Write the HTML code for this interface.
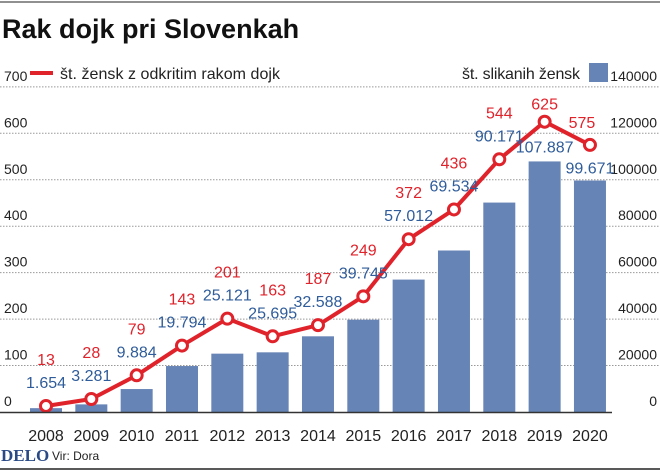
<!DOCTYPE html>
<html><head><meta charset="utf-8"><style>
body{margin:0;background:#fff;}
svg{display:block;font-family:"Liberation Sans",sans-serif;}
</style></head><body>
<svg id="chart" width="660" height="472" viewBox="0 0 660 472">
<line x1="0" y1="2" x2="660" y2="2" stroke="#222" stroke-width="1"/>
<text x="2" y="38" font-weight="bold" font-size="27" fill="#111">Rak dojk pri Slovenkah</text>
<g id="grid"></g>
<g id="bars"></g>
<g id="line"></g>
<g id="labels"></g>
<line x1="0" y1="412.5" x2="612" y2="412.5" stroke="#333" stroke-width="1.5"/>
<g>
<line x1="30" y1="73" x2="53" y2="73" stroke="#e0222b" stroke-width="4"/>
<text x="60" y="79" font-size="16" fill="#222" textLength="220">št. žensk z odkritim rakom dojk</text>
</g>
<g>
<text x="462" y="79" font-size="16" fill="#222" textLength="118">št. slikanih žensk</text>
<rect x="589" y="63" width="19" height="19" fill="#6684b6"/>
</g>
<text x="1" y="461" font-family="Liberation Serif, serif" font-weight="bold" font-size="17" fill="#2a4a86">DELO</text>
<text x="52" y="460" font-size="12" fill="#222">Vir: Dora</text>
<line x1="0" y1="469" x2="660" y2="469" stroke="#222" stroke-width="1.5"/>
</svg>
<script>
const years=["2008","2009","2010","2011","2012","2013","2014","2015","2016","2017","2018","2019","2020"];
const screened=[1654,3281,9884,19794,25121,25695,32588,39745,57012,69534,90171,107887,99671];
const diagnosed=[13,28,79,143,201,163,187,249,372,436,544,625,575];
const leftTicks=[0,100,200,300,400,500,600,700];
const rightTicks=[0,20000,40000,60000,80000,100000,120000,140000];
const screenedLabels=["1.654","3.281","9.884","19.794","25.121","25.695","32.588","39.745","57.012","69.534","90.171","107.887","99.671"];

const NS="http://www.w3.org/2000/svg";
const y0=412, pxPer=46.45/100;
const yL=v=>y0-v*pxPer;
const yR=v=>y0-v/200*pxPer;
const xC=i=>46+i*45.33;
function mk(tag,attrs,parent){const e=document.createElementNS(NS,tag);for(const k in attrs)e.setAttribute(k,attrs[k]);parent.appendChild(e);return e;}
const grid=document.getElementById('grid'),bars=document.getElementById('bars'),line=document.getElementById('line'),labels=document.getElementById('labels');

leftTicks.forEach(t=>{
  const y=yL(t);
  if(t>0){const g=mk('line',{x1:0,y1:y,x2:660,y2:y,stroke:'#999','stroke-width':1,'stroke-dasharray':'1.5,1.5'},grid);
  
  }
  const tx=mk('text',{x:4,y:y-6,'font-size':14,fill:'#222'},grid);
  tx.textContent=t;
  
  
});
rightTicks.forEach(t=>{
  const y=yR(t);
  const tx=mk('text',{x:657,y:y-6,'font-size':14,fill:'#222','text-anchor':'end'},grid);
  tx.textContent=t;
  
  
});
years.forEach((yr,i)=>{
  const top=yR(screened[i]);
  const r=mk('rect',{x:xC(i)-16,y:top,width:32,height:y0-top,fill:'#6684b6'},bars);
  
  
  const t=mk('text',{x:xC(i),y:y0+29,'font-size':16,fill:'#222','text-anchor':'middle'},labels);
  t.textContent=yr;
  
  
});
const pts=diagnosed.map((v,i)=>xC(i)+','+yL(v)).join(' ');
const pl=mk('polyline',{points:pts,fill:'none',stroke:'#e0222b','stroke-width':4,'stroke-linejoin':'round'},line);


const n=years.length;
diagnosed.forEach((v,i)=>{
  const c=mk('circle',{cx:xC(i),cy:yL(v),r:5.5,fill:'#fff',stroke:'#e0222b','stroke-width':3},line);
  
  
  let xr=xC(i), xb=xC(i), yr=yL(v)-41, yb=yL(v)-18;
  if(i===n-2){yr=yL(v)-12; yb=yR(screened[i])-9;}
  if(i===n-1){xr=xC(i)-8; yr=yL(v)-17; yb=yR(screened[i])-7;}
  const a=mk('text',{x:xr,y:yr,'font-size':16,fill:'#e0222b','text-anchor':'middle'},labels);
  a.textContent=v;
  
  
  const b=mk('text',{x:xb,y:yb,'font-size':16,fill:'#2f5c9a','text-anchor':'middle'},labels);
  b.textContent=screenedLabels[i];
  
  
});
</script>
</body></html>
